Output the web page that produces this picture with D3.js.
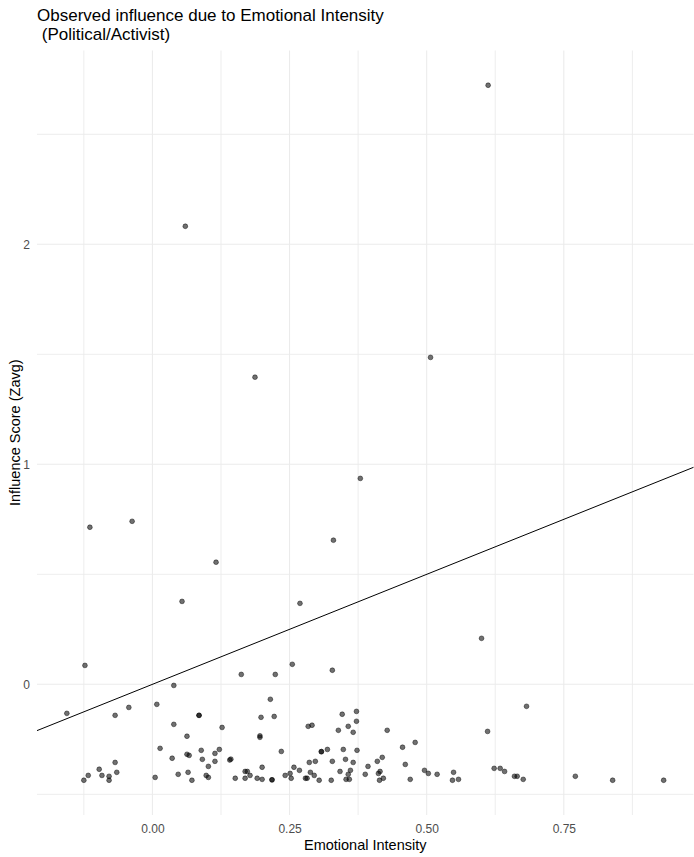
<!DOCTYPE html>
<html>
<head>
<meta charset="utf-8">
<script src="https://cdn.jsdelivr.net/npm/d3@7"></script>
<style>
  html, body { margin: 0; padding: 0; background: #ffffff; }
  svg { display: block; font-family: "Liberation Sans", Arial, sans-serif; }
</style>
</head>
<body>
<svg id="chart" width="694" height="857"></svg>
<script>
// ---- Data ----
const emotionalIntensity = [
  0.612, 0.060, 0.507, 0.187, 0.379, -0.037, -0.114, 0.330, 0.116, 0.054,
  0.269, 0.600, 0.255, -0.123, 0.328, 0.162, 0.224, 0.039, 0.682, -0.156,
  0.008, -0.043, 0.215, -0.068, 0.085, 0.085, 0.198, 0.222, 0.346, 0.372,
  0.372, 0.039, 0.127, 0.284, 0.291, 0.357, 0.339, 0.366, 0.428, 0.611,
  0.063, 0.196, 0.196, 0.479, 0.456, 0.014, 0.089, 0.122, 0.235, 0.308,
  0.308, 0.319, 0.348, 0.373, 0.114, 0.063, 0.067, 0.036, 0.091, 0.141,
  0.143, 0.114, -0.068, 0.286, 0.297, 0.328, 0.352, 0.366, 0.419, 0.410,
  0.461, 0.393, 0.102, 0.200, 0.258, 0.623, 0.634, -0.097, 0.268, 0.361,
  0.496, 0.169, 0.173, 0.342, 0.415, 0.642, -0.065, 0.065, 0.288, 0.549,
  0.251, 0.412, 0.503, 0.047, 0.357, 0.388, 0.519, -0.117, -0.092, 0.098,
  0.178, 0.242, 0.295, -0.079, 0.660, 0.665, 0.771, 0.005, 0.102, 0.151,
  0.169, 0.191, 0.253, 0.279, 0.282, 0.421, 0.200, 0.353, 0.359, 0.470,
  0.558, 0.676, -0.125, -0.079, 0.072, 0.218, 0.218, 0.304, 0.326, 0.414,
  0.547, 0.839, 0.932
];
const influenceScore = [
  2.723, 2.082, 1.486, 1.396, 0.936, 0.741, 0.714, 0.655, 0.555, 0.377,
  0.368, 0.209, 0.091, 0.086, 0.064, 0.045, 0.045, -0.005, -0.100, -0.132,
  -0.091, -0.105, -0.068, -0.141, -0.141, -0.141, -0.150, -0.146, -0.136, -0.123,
  -0.168, -0.182, -0.196, -0.191, -0.186, -0.191, -0.209, -0.218, -0.209, -0.214,
  -0.236, -0.234, -0.241, -0.264, -0.286, -0.291, -0.300, -0.296, -0.305, -0.306,
  -0.306, -0.296, -0.296, -0.300, -0.314, -0.318, -0.323, -0.336, -0.341, -0.344,
  -0.340, -0.350, -0.355, -0.355, -0.350, -0.350, -0.341, -0.355, -0.332, -0.350,
  -0.364, -0.373, -0.373, -0.377, -0.377, -0.382, -0.382, -0.386, -0.391, -0.391,
  -0.391, -0.396, -0.396, -0.396, -0.396, -0.396, -0.400, -0.400, -0.400, -0.400,
  -0.405, -0.405, -0.405, -0.409, -0.409, -0.409, -0.409, -0.414, -0.414, -0.414,
  -0.414, -0.414, -0.414, -0.418, -0.418, -0.418, -0.418, -0.423, -0.423, -0.427,
  -0.427, -0.427, -0.427, -0.427, -0.427, -0.427, -0.432, -0.432, -0.432, -0.432,
  -0.432, -0.432, -0.436, -0.436, -0.436, -0.434, -0.434, -0.436, -0.436, -0.436,
  -0.436, -0.436, -0.436
];
const xMajorTicks = [0, 0.25, 0.5, 0.75];
const xMinorTicks = [-0.125, 0.125, 0.375, 0.625, 0.875];
const yMajorTicks = [0, 1, 2];
const yMinorTicks = [-0.5, 0.5, 1.5, 2.5];
const xTickLabels = ["0.00", "0.25", "0.50", "0.75"];
const yTickLabels = ["0", "1", "2"];
const refLineIntercept = 0;
const refLineSlope = 1;
const titleLines = ["Observed influence due to Emotional Intensity", " (Political/Activist)"];
const xAxisTitle = "Emotional Intensity";
const yAxisTitle = "Influence Score (Zavg)";

// ---- Layout ----
const panel = { left: 37, right: 693.5, top: 50.5, bottom: 815 };

function expand(ext, mult) {
  const r = ext[1] - ext[0];
  return [ext[0] - r * mult, ext[1] + r * mult];
}

const x = d3.scaleLinear()
  .domain(expand(d3.extent(emotionalIntensity), 0.05))
  .range([panel.left, panel.right]);
const y = d3.scaleLinear()
  .domain(expand(d3.extent(influenceScore), 0.05))
  .range([panel.bottom, panel.top]);

const svg = d3.select("#chart");

// Grid lines
const grid = svg.append("g");
grid.selectAll("line.yminor").data(yMinorTicks).enter().append("line")
  .attr("x1", panel.left).attr("x2", panel.right)
  .attr("y1", d => y(d)).attr("y2", d => y(d))
  .attr("stroke", "#EBEBEB").attr("stroke-width", 0.9);
grid.selectAll("line.xminor").data(xMinorTicks).enter().append("line")
  .attr("y1", panel.top).attr("y2", panel.bottom)
  .attr("x1", d => x(d)).attr("x2", d => x(d))
  .attr("stroke", "#EBEBEB").attr("stroke-width", 0.9);
grid.selectAll("line.ymajor").data(yMajorTicks).enter().append("line")
  .attr("x1", panel.left).attr("x2", panel.right)
  .attr("y1", d => y(d)).attr("y2", d => y(d))
  .attr("stroke", "#EBEBEB").attr("stroke-width", 1.07);
grid.selectAll("line.xmajor").data(xMajorTicks).enter().append("line")
  .attr("y1", panel.top).attr("y2", panel.bottom)
  .attr("x1", d => x(d)).attr("x2", d => x(d))
  .attr("stroke", "#EBEBEB").attr("stroke-width", 1.07);

// Points
const pts = emotionalIntensity.map((v, i) => ({ x: v, y: influenceScore[i] }));
svg.append("g").selectAll("circle").data(pts).enter().append("circle")
  .attr("cx", d => x(d.x)).attr("cy", d => y(d.y))
  .attr("r", 2.4)
  .attr("fill", "#000").attr("fill-opacity", 0.56)
  .attr("stroke", "#000").attr("stroke-opacity", 0.55).attr("stroke-width", 0.8);

// Reference line
const xd = x.domain();
svg.append("line")
  .attr("x1", x(xd[0])).attr("y1", y(refLineIntercept + refLineSlope * xd[0]))
  .attr("x2", x(xd[1])).attr("y2", y(refLineIntercept + refLineSlope * xd[1]))
  .attr("stroke", "#000").attr("stroke-width", 1);

// Axes (tick labels only, theme_minimal style)
const xAxis = d3.axisBottom(x).tickValues(xMajorTicks)
  .tickFormat((d, i) => xTickLabels[i]).tickSize(0).tickPadding(0);
const gx = svg.append("g").attr("transform", `translate(0,${panel.bottom})`).call(xAxis);
gx.select(".domain").remove();
gx.selectAll("text").attr("y", 0).attr("dy", null)
  .attr("transform", "translate(0,17.5)")
  .attr("fill", "#4D4D4D").style("font-size", "12px")
  .style("font-family", "Liberation Sans, Arial, sans-serif");

const yAxis = d3.axisLeft(y).tickValues(yMajorTicks)
  .tickFormat((d, i) => yTickLabels[i]).tickSize(0).tickPadding(0);
const gy = svg.append("g").attr("transform", `translate(30,0)`).call(yAxis);
gy.select(".domain").remove();
gy.selectAll("text").attr("x", 0).attr("dy", "0.35em")
  .attr("fill", "#4D4D4D").style("font-size", "12px")
  .style("font-family", "Liberation Sans, Arial, sans-serif");

// Axis titles
svg.append("text")
  .attr("x", (panel.left + panel.right) / 2).attr("y", 849.5)
  .attr("text-anchor", "middle").attr("fill", "#000")
  .style("font-size", "14.5px").text(xAxisTitle);
svg.append("text")
  .attr("transform", `translate(19.5,${(panel.top + panel.bottom) / 2}) rotate(-90)`)
  .attr("text-anchor", "middle").attr("fill", "#000")
  .style("font-size", "14.5px").text(yAxisTitle);

// Title
titleLines.forEach((t, i) => {
  svg.append("text").attr("fill", "#000").style("font-size", "17px")
    .attr("xml:space", "preserve").style("white-space", "pre")
    .attr("x", panel.left).attr("y", 20.5 + i * 19.5).text(t);
});
</script>
</body>
</html>
